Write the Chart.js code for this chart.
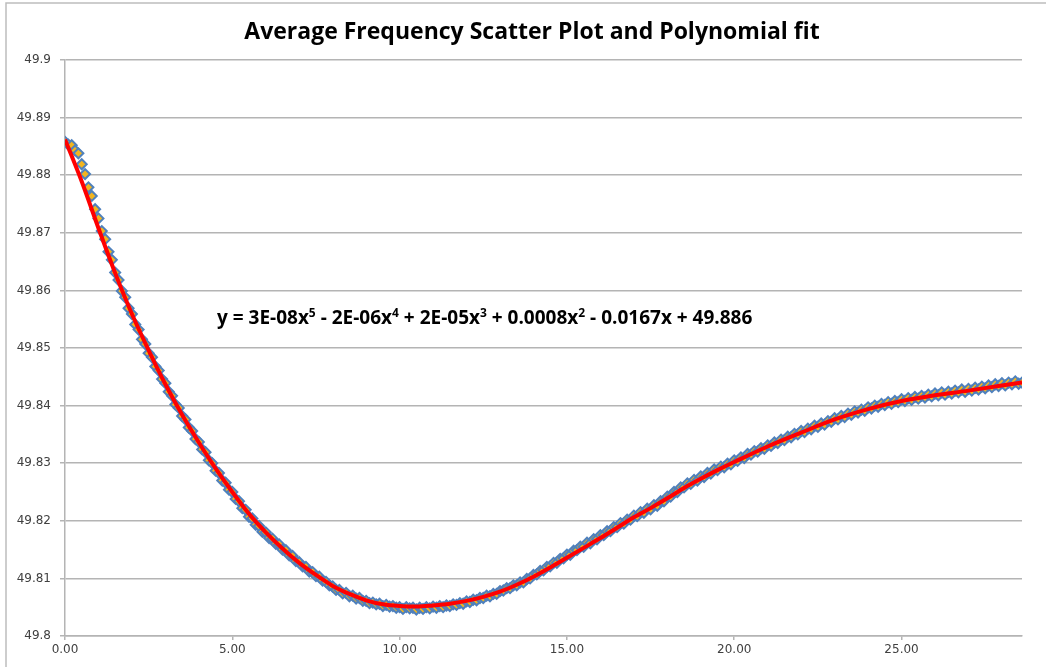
<!DOCTYPE html>
<html>
<head>
<meta charset="utf-8">
<title>Average Frequency Scatter Plot and Polynomial fit</title>
<script src="https://cdn.jsdelivr.net/npm/chart.js@4.4.1/dist/chart.umd.min.js"></script>
<style>
    html, body { margin: 0; padding: 0; background: #ffffff; }
    #wrap { width: 1046px; height: 667px; position: relative; }
</style>
</head>
<body>
<div id="wrap"><canvas id="freqChart" width="1046" height="667"></canvas></div>
<script>
// ==========================================
// DATA
// ==========================================

const chartTitle = 'Average Frequency Scatter Plot and Polynomial fit';

// measured samples, one every 0.1 on the x axis starting at 0
const sampleStart = 0;
const sampleStep = 0.1;
const avgFrequency = [
    49.8858, 49.8853, 49.8852, 49.8843, 49.8838, 49.8819, 49.8802, 49.8779, 49.8764, 49.8741,
    49.8725, 49.8703, 49.8689, 49.8667, 49.8653, 49.8631, 49.8618, 49.8599, 49.8588, 49.8569,
    49.8559, 49.8541, 49.8532, 49.8515, 49.8507, 49.8491, 49.8484, 49.8468, 49.8461, 49.8446,
    49.8439, 49.8424, 49.8417, 49.8402, 49.8396, 49.8382, 49.8376, 49.8362, 49.8356, 49.8342,
    49.8337, 49.8324, 49.8319, 49.8305, 49.8300, 49.8287, 49.8283, 49.8270, 49.8266, 49.8254,
    49.8250, 49.8238, 49.8234, 49.8222, 49.8219, 49.8207, 49.8204, 49.8193, 49.8191, 49.8181,
    49.8180, 49.8170, 49.8169, 49.8160, 49.8159, 49.8150, 49.8149, 49.8140, 49.8139, 49.8130,
    49.8128, 49.8121, 49.8120, 49.8112, 49.8111, 49.8104, 49.8103, 49.8096, 49.8094, 49.8088,
    49.8086, 49.8080, 49.8080, 49.8074, 49.8075, 49.8069, 49.8070, 49.8065, 49.8066, 49.8061,
    49.8061, 49.8057, 49.8058, 49.8055, 49.8056, 49.8052, 49.8054, 49.8051, 49.8052, 49.8049,
    49.8050, 49.8047, 49.8050, 49.8048, 49.8049, 49.8046, 49.8049, 49.8047, 49.8050, 49.8048,
    49.8051, 49.8049, 49.8052, 49.8050, 49.8053, 49.8052, 49.8055, 49.8054, 49.8057, 49.8056,
    49.8060, 49.8059, 49.8063, 49.8062, 49.8066, 49.8066, 49.8070, 49.8069, 49.8073, 49.8073,
    49.8078, 49.8079, 49.8083, 49.8083, 49.8088, 49.8088, 49.8093, 49.8093, 49.8099, 49.8100,
    49.8106, 49.8107, 49.8113, 49.8114, 49.8120, 49.8121, 49.8127, 49.8127, 49.8134, 49.8135,
    49.8141, 49.8141, 49.8148, 49.8149, 49.8155, 49.8155, 49.8162, 49.8161, 49.8168, 49.8168,
    49.8175, 49.8175, 49.8182, 49.8182, 49.8189, 49.8189, 49.8196, 49.8195, 49.8202, 49.8202,
    49.8209, 49.8208, 49.8215, 49.8214, 49.8221, 49.8220, 49.8227, 49.8226, 49.8234, 49.8234,
    49.8242, 49.8242, 49.8250, 49.8250, 49.8258, 49.8258, 49.8265, 49.8264, 49.8271, 49.8270,
    49.8277, 49.8276, 49.8283, 49.8282, 49.8289, 49.8288, 49.8294, 49.8293, 49.8299, 49.8298,
    49.8305, 49.8304, 49.8310, 49.8309, 49.8316, 49.8315, 49.8321, 49.8320, 49.8326, 49.8325,
    49.8331, 49.8330, 49.8336, 49.8335, 49.8341, 49.8340, 49.8346, 49.8345, 49.8351, 49.8350,
    49.8356, 49.8354, 49.8360, 49.8359, 49.8365, 49.8363, 49.8369, 49.8367, 49.8373, 49.8372,
    49.8378, 49.8376, 49.8382, 49.8380, 49.8386, 49.8384, 49.8390, 49.8388, 49.8393, 49.8391,
    49.8397, 49.8395, 49.8400, 49.8398, 49.8403, 49.8401, 49.8406, 49.8403, 49.8408, 49.8406,
    49.8411, 49.8408, 49.8413, 49.8410, 49.8415, 49.8412, 49.8417, 49.8414, 49.8419, 49.8416,
    49.8421, 49.8418, 49.8423, 49.8419, 49.8424, 49.8421, 49.8426, 49.8423, 49.8428, 49.8424,
    49.8429, 49.8426, 49.8431, 49.8428, 49.8433, 49.8430, 49.8435, 49.8432, 49.8437, 49.8434,
    49.8439, 49.8435, 49.8440, 49.8437, 49.8442, 49.8438, 49.8440
];

// polynomial trend line (red), read at these x positions
const fitX = [0, 0.5, 1, 1.5, 2, 2.5, 3, 3.5, 4, 4.5, 5, 5.5, 6, 6.5, 7, 7.5, 8, 8.5, 9, 9.5,
    10, 10.5, 11, 11.5, 12, 12.5, 13, 13.5, 14, 14.5, 15, 15.5, 16, 16.5, 17, 17.5, 18, 18.5,
    19, 19.5, 20, 21, 22, 23, 24, 25, 26, 27, 28, 28.6];
const fitY = [49.8862, 49.8789, 49.8708, 49.8630, 49.8559, 49.8496, 49.8437, 49.8384, 49.8336, 49.8291,
    49.8250, 49.8212, 49.8180, 49.8152, 49.8127, 49.8106, 49.8087, 49.8073, 49.8062, 49.8055,
    49.8052, 49.8051, 49.8053, 49.8056, 49.8061, 49.8068, 49.8077, 49.8089, 49.8103, 49.8119,
    49.8136, 49.8153, 49.8170, 49.8188, 49.8206, 49.8222, 49.8239, 49.8257, 49.8273, 49.8288,
    49.8302, 49.8329, 49.8353, 49.8376, 49.8394, 49.8408, 49.8418, 49.8426, 49.8435, 49.8440];

// axis ranges / ticks
const xMin = 0, xMax = 28.6, xStep = 5;
const yMin = 49.8, yMax = 49.9, yStep = 0.01;

// trend line equation, split into normal text and superscripts
const equationParts = [
    ['y = 3E-08x', false], ['5', true],
    [' - 2E-06x', false], ['4', true],
    [' + 2E-05x', false], ['3', true],
    [' + 0.0008x', false], ['2', true],
    [' - 0.0167x + 49.886', false]
];

// ==========================================
// BUILD POINTS
// ==========================================

const scatterPoints = avgFrequency.map((v, i) => ({ x: +(sampleStart + i * sampleStep).toFixed(1), y: v }));
const fitPoints = fitX.map((x, i) => ({ x: x, y: fitY[i] }));

// ==========================================
// PLUGINS: frame, title, equation
// ==========================================

const decorPlugin = {
    id: 'decor',
    beforeDraw(chart) {
        const ctx = chart.ctx;
        ctx.save();
        ctx.fillStyle = '#ffffff';
        ctx.fillRect(0, 0, chart.width, chart.height);
        // outer frame (top and left edges visible)
        ctx.strokeStyle = '#BDBDBD';
        ctx.lineWidth = 1.5;
        ctx.beginPath();
        ctx.moveTo(6, chart.height);
        ctx.lineTo(6, 3);
        ctx.lineTo(chart.width, 3);
        ctx.stroke();
        // title
        ctx.fillStyle = '#000000';
        ctx.font = 'bold 23px "Open Sans", sans-serif';
        ctx.textAlign = 'center';
        ctx.textBaseline = 'middle';
        ctx.fillText(chartTitle, 532, 32);
        ctx.restore();
    },
    afterDatasetsDraw(chart) {
        const ctx = chart.ctx;
        ctx.save();
        ctx.fillStyle = '#000000';
        ctx.textBaseline = 'alphabetic';
        ctx.textAlign = 'left';
        let x = 217;
        const base = 324;
        equationParts.forEach(([txt, sup]) => {
            ctx.font = sup ? 'bold 12px "Open Sans", sans-serif' : 'bold 19px "Open Sans", sans-serif';
            ctx.fillText(txt, x, sup ? base - 7 : base);
            x += ctx.measureText(txt).width;
        });
        ctx.restore();
    }
};

// ==========================================
// CHART
// ==========================================

const gridGray = '#B4B4B4';
const tickFont = { family: '"DejaVu Sans", sans-serif', size: 12 };

const freqCtx = document.getElementById('freqChart').getContext('2d');
const freqChart = new Chart(freqCtx, {
    type: 'scatter',
    data: {
        datasets: [
            {
                label: 'Poly. fit',
                data: fitPoints,
                showLine: true,
                borderColor: '#FF0000',
                borderWidth: 4,
                pointRadius: 0,
                cubicInterpolationMode: 'monotone',
                order: 0
            },
            {
                label: 'Average Frequency',
                data: scatterPoints,
                pointStyle: 'rectRot',
                pointRadius: 5,
                borderColor: '#4F81BD',
                backgroundColor: '#F2B51F',
                borderWidth: 2,
                order: 1
            }
        ]
    },
    options: {
        responsive: false,
        animation: false,
        events: [],
        layout: {
            padding: { top: 60, right: 24, left: 0, bottom: 0 }
        },
        plugins: {
            legend: { display: false },
            title: { display: false },
            tooltip: { enabled: false }
        },
        scales: {
            x: {
                type: 'linear',
                min: xMin,
                max: xMax,
                afterFit: (scale) => { scale.height = 31; },
                afterBuildTicks: (scale) => {
                    scale.ticks = scale.ticks.filter(t => Math.abs(t.value / xStep - Math.round(t.value / xStep)) < 1e-6);
                },
                grid: {
                    drawOnChartArea: false,
                    drawTicks: true,
                    tickLength: 4,
                    color: gridGray,
                    lineWidth: 1.5
                },
                border: { display: true, color: gridGray, width: 1.5 },
                ticks: {
                    stepSize: xStep,
                    color: '#404040',
                    font: tickFont,
                    padding: 3,
                    callback: (v) => Number(v).toFixed(2)
                }
            },
            y: {
                min: yMin,
                max: yMax,
                afterFit: (scale) => { scale.width = 65; },
                grid: {
                    color: gridGray,
                    lineWidth: 1.5,
                    drawTicks: true,
                    tickLength: 5
                },
                border: { display: true, color: gridGray, width: 1.5 },
                ticks: {
                    stepSize: yStep,
                    color: '#404040',
                    font: tickFont,
                    padding: 9,
                    callback: (v) => String(Number(Number(v).toFixed(2)))
                }
            }
        }
    },
    plugins: [decorPlugin]
});
</script>
</body>
</html>
